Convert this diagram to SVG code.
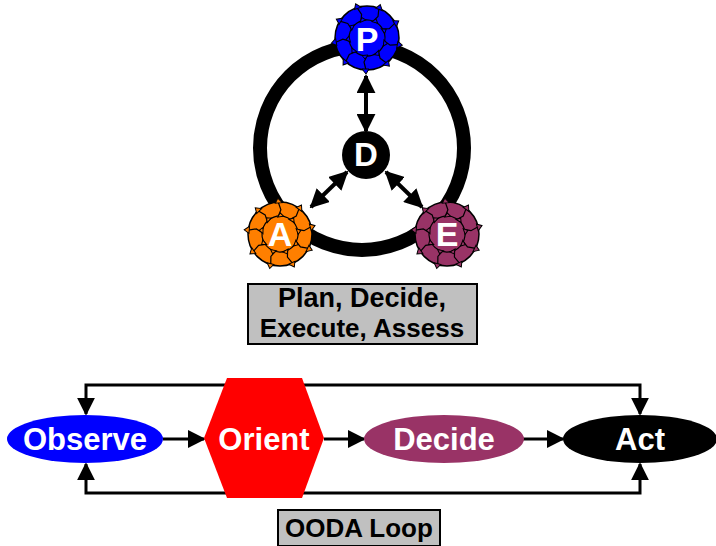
<svg xmlns="http://www.w3.org/2000/svg" xmlns:xlink="http://www.w3.org/1999/xlink" width="716" height="546" viewBox="0 0 716 546">
<style>
.lbl{font-family:"Liberation Sans",Arial,sans-serif;font-weight:bold;fill:#000;text-anchor:middle}
.wt{font-family:"Liberation Sans",Arial,sans-serif;font-weight:bold;fill:#fff;text-anchor:middle}
.con{stroke:#000;fill:none}
.box{fill:#c0c0c0;stroke:#000;stroke-width:2}
.dl{stroke:#000;stroke-width:1.2;fill:none}
.barb{stroke:#000;stroke-width:1}
</style>
<defs>
<marker id="ah" viewBox="0 0 10 10" refX="9" refY="5" markerWidth="18" markerHeight="18" markerUnits="userSpaceOnUse" orient="auto-start-reverse">
<path d="M0,0 L10,5 L0,10 Z" fill="#000"/>
</marker>
<marker id="ah2" viewBox="0 0 10 10" refX="9" refY="5" markerWidth="19" markerHeight="19" markerUnits="userSpaceOnUse" orient="auto-start-reverse">
<path d="M0,0 L10,5 L0,10 Z" fill="#000"/>
</marker>
<g id="seg">
<path class="dl" d="M18,0 L24,3 L32,1"/>
<path class="barb" d="M31,-2 L36,1 L31,5 Z" fill="inherit"/>
<path class="barb" d="M17,-1 L21,2 L17.5,5 Z" fill="inherit"/>
</g>
<g id="deco">
<circle class="dl" r="18"/>
<use xlink:href="#seg"/>
<use xlink:href="#seg" transform="rotate(40)"/>
<use xlink:href="#seg" transform="rotate(80)"/>
<use xlink:href="#seg" transform="rotate(120)"/>
<use xlink:href="#seg" transform="rotate(160)"/>
<use xlink:href="#seg" transform="rotate(200)"/>
<use xlink:href="#seg" transform="rotate(240)"/>
<use xlink:href="#seg" transform="rotate(280)"/>
<use xlink:href="#seg" transform="rotate(320)"/>
</g>
</defs>
<rect width="716" height="546" fill="#fff"/>
<g id="ring">
<circle cx="362" cy="148" r="102" fill="none" stroke="#000" stroke-width="14"/>
</g>
<g id="connectors">
<line class="con" stroke-width="4" x1="366" y1="76" x2="366" y2="131" marker-start="url(#ah2)" marker-end="url(#ah2)"/>
<line class="con" stroke-width="4" x1="347" y1="172" x2="311" y2="207" marker-start="url(#ah2)" marker-end="url(#ah2)"/>
<line class="con" stroke-width="4" x1="386" y1="172" x2="422" y2="207" marker-start="url(#ah2)" marker-end="url(#ah2)"/>
<polyline class="con" stroke-width="3" points="86,414 86,385 640,385 640,414" marker-start="url(#ah)" marker-end="url(#ah)"/>
<polyline class="con" stroke-width="3" points="86,464 86,493 640,493 640,464" marker-start="url(#ah)" marker-end="url(#ah)"/>
<line class="con" stroke-width="3" x1="163" y1="439" x2="204" y2="439" marker-end="url(#ah)"/>
<line class="con" stroke-width="3" x1="324" y1="439" x2="364" y2="439" marker-end="url(#ah)"/>
<line class="con" stroke-width="3" x1="523" y1="439" x2="563" y2="439" marker-end="url(#ah)"/>
</g>
<g id="P" fill="#0000ff">
<circle cx="367" cy="38" r="32" stroke="#000" stroke-width="1.5"/>
<use xlink:href="#deco" transform="translate(367,38) rotate(10)"/>
<text class="wt" x="367" y="51" font-size="34">P</text>
</g>
<g id="A" fill="#ff7f00">
<circle cx="280" cy="234" r="32" stroke="#000" stroke-width="1.5"/>
<use xlink:href="#deco" transform="translate(280,234) rotate(25)"/>
<text class="wt" x="280" y="246" font-size="34">A</text>
</g>
<g id="E" fill="#993366">
<circle cx="447" cy="234" r="32" stroke="#000" stroke-width="1.5"/>
<use xlink:href="#deco" transform="translate(447,234) rotate(-15)"/>
<text class="wt" x="447" y="246" font-size="34">E</text>
</g>
<g id="D">
<circle cx="366" cy="155" r="24" fill="#000"/>
<text class="wt" x="366" y="166" font-size="33">D</text>
</g>
<g id="pdea-label">
<rect class="box" x="248" y="284" width="229" height="60"/>
<text class="lbl" x="362" y="307" font-size="27">Plan, Decide,</text>
<text class="lbl" x="362" y="337" font-size="26">Execute, Assess</text>
</g>
<g id="observe">
<ellipse cx="85" cy="439" rx="78" ry="24" fill="#0000ff"/>
<text class="wt" x="85" y="450" font-size="31">Observe</text>
</g>
<g id="orient">
<polygon points="227,378 302,378 324,438 302,498 227,498 204,438" fill="#ff0000"/>
<text class="wt" x="264" y="450" font-size="31">Orient</text>
</g>
<g id="decide">
<ellipse cx="444" cy="439" rx="80" ry="24" fill="#993366"/>
<text class="wt" x="444" y="450" font-size="31">Decide</text>
</g>
<g id="act">
<ellipse cx="640" cy="439" rx="77" ry="24" fill="#000"/>
<text class="wt" x="640" y="450" font-size="31">Act</text>
</g>
<g id="ooda-label">
<rect class="box" x="278" y="510" width="162" height="36"/>
<text class="lbl" x="359" y="537" font-size="26">OODA Loop</text>
</g>
</svg>
